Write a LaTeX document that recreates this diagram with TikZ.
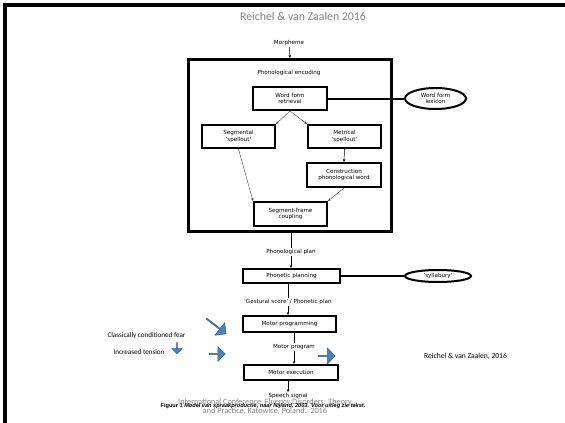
\documentclass[tikz,border=0pt]{standalone}
\usepackage{fontspec}
\setmainfont{Carlito}
\newfontfamily\diag{DejaVu Sans}
\newfontfamily\capfont{Liberation Sans}
\usetikzlibrary{shapes.geometric,shapes.arrows,arrows.meta}
\definecolor{bluefill}{RGB}{79,129,189}
\definecolor{blueline}{RGB}{56,93,138}
\definecolor{titlegray}{RGB}{128,128,128}
\begin{document}
\begin{tikzpicture}[x=1pt,y=-1pt,
  dfont/.style={font=\diag\fontsize{5.6}{6.6}\selectfont},
  box/.style={draw, line width=2pt, align=center, dfont, inner sep=0pt},
  oval/.style={draw, ellipse, line width=2pt, align=center, dfont, inner sep=0pt},
  lbl/.style={dfont, inner sep=1pt},
  conn/.style={line width=0.5pt},
  arr/.style={line width=0.5pt, -{Stealth[length=3pt,width=2.6pt]}},
  diagarr/.style={line width=0.4pt, draw=black!75, -{Stealth[length=3pt,width=2.6pt]}},
  barrow/.style={single arrow, fill=bluefill, draw=blueline, line width=0.5pt, inner sep=0pt, single arrow head extend=3pt},
  side/.style={font=\fontsize{7.1}{8}\selectfont, inner sep=0pt}
]
\useasboundingbox (0,0) rectangle (565,423);
\fill[white] (0,0) rectangle (565,423);
\draw[line width=4pt] (5,423) -- (5,5) -- (565,5);

\node[text=titlegray, font=\fontsize{11.8}{13}\selectfont] (title) at (303,16) {Reichel \& van Zaalen 2016};

% phonological encoding
\node[lbl] (morph) at (289,43) {Morpheme};
\node[draw, line width=3pt, minimum width=203pt, minimum height=172pt, inner sep=0pt] (enc) at (290,145.5) {};
\node[lbl] (enclbl) at (289,73) {Phonological encoding};
\node[box, minimum width=74pt, minimum height=23pt] (wfr) at (290,98.5) {Word form\\retrieval};
\node[box, minimum width=73pt, minimum height=23pt] (seg) at (238.5,136.5) {Segmental\\'spellout'};
\node[box, minimum width=73pt, minimum height=23pt] (met) at (344.5,136.5) {Metrical\\'spellout'};
\node[box, minimum width=74pt, minimum height=24pt] (cons) at (344,175) {Construction\\phonological word};
\node[box, minimum width=73pt, minimum height=24pt] (sfc) at (290.5,214) {Segment-frame\\coupling};
\node[oval, minimum width=61pt, minimum height=21pt] (lex) at (435.5,98.5) {Word form\\lexicon};

\draw[arr] (morph) -- (enc.north);
\draw[diagarr] (wfr.south) -- (seg.north east);
\draw[diagarr] (wfr.south) -- (met.north west);
\draw[diagarr] (seg.south) -- (sfc.north west);
\draw[arr] (met.south) -- (cons.north);
\draw[diagarr] (cons.south) -- (sfc.north east);
\draw[line width=2pt] (wfr.east) -- (lex.west);

% lower chain
\node[lbl] (plan) at (291,252) {Phonological plan};
\node[box, minimum width=97pt, minimum height=14pt] (pp) at (291.5,276) {Phonetic planning};
\node[oval, minimum width=66pt, minimum height=12pt] (syl) at (438,276) {'syllabury'};
\node[lbl] (gest) at (288,302) {'Gestural score' / Phonetic plan};
\node[box, minimum width=93pt, minimum height=16pt] (mp) at (289.5,324) {Motor programming};
\node[lbl] (mprog) at (294,347) {Motor program};
\node[box, minimum width=94pt, minimum height=15pt] (me) at (291,372.5) {Motor execution};
\node[lbl] (speech) at (288,396) {Speech signal};

\draw[conn] (enc.south -| plan) -- (plan.north);
\draw[arr] (plan.south) -- (pp.north -| plan);
\draw[line width=2pt] (pp.east) -- (syl.west);
\draw[conn] (pp.south -| gest) -- (gest.north);
\draw[arr] (gest.south) -- (mp.north -| gest);
\draw[conn] (mp.south -| mprog) -- (mprog.north);
\draw[arr] (mprog.south) -- (me.north -| mprog);
\draw[arr] (me.south -| speech) -- (speech.north);

% side texts
\node[side] (fear) at (146.5,336) {Classically conditioned fear};
\node[side] (tension) at (139,352) {Increased tension};
\node[font=\fontsize{7.6}{8}\selectfont, inner sep=0pt] (ref) at (465.5,356) {Reichel \& van Zaalen, 2016};

% blue arrows
\node[barrow, minimum height=11pt, minimum width=10pt, rotate=-90] (b1) at (177,348) {};
\node[barrow, minimum height=25pt, minimum width=16pt, rotate=-38] (b2) at (216,326) {};
\node[barrow, minimum height=16pt, minimum width=15pt] (b3) at (217,354) {};
\node[barrow, minimum height=17pt, minimum width=16pt] (b4) at (326.5,356) {};

% caption and footer
\node[text=titlegray, font=\fontsize{8.2}{9}\selectfont, inner sep=0pt] (conf1) at (265,402) {International Conference\ \ Fluency Disorders: Theory};
\node[font=\capfont\bfseries\fontsize{5.6}{6}\selectfont, inner sep=0pt] (cap) at (263,406) {Figuur 1 \textit{Model van spraakproductie, naar Nijland, 2003. Voor uitleg zie tekst.}};
\node[text=titlegray, font=\fontsize{8.2}{9}\selectfont, inner sep=0pt] (conf2) at (265,411) {and Practice, Katowice, Poland.\ \ 2016};
\end{tikzpicture}
\end{document}
